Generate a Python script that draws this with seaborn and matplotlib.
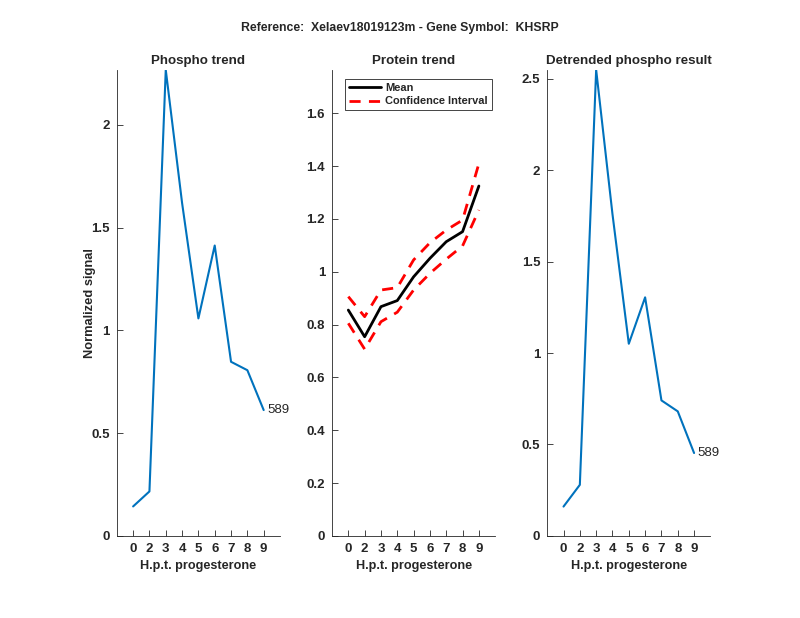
"""Phospho / protein trends for one gene, three panels"""
import numpy as np
import pandas as pd
import seaborn as sns
from matplotlib import pyplot as plt
from matplotlib.lines import Line2D
from matplotlib.ticker import FuncFormatter

hours = ["0", "2", "3", "4", "5", "6", "7", "8", "9"]
phospho = [0.143, 0.216, 2.268, 1.62, 1.058, 1.413, 0.847, 0.806, 0.612]
protein_mean = [0.855, 0.754, 0.868, 0.891, 0.981, 1.051, 1.114, 1.152, 1.325]
protein_upper = [0.906, 0.830, 0.931, 0.940, 1.045, 1.110, 1.158, 1.196, 1.410]
protein_lower = [0.805, 0.707, 0.811, 0.847, 0.931, 0.994, 1.048, 1.098, 1.234]
detrended = [0.160, 0.279, 2.550, 1.76, 1.051, 1.305, 0.741, 0.681, 0.453]
peptide_id = "589"

BLUE = "#0072BD"
AX_COLOR = "#262626"

sns.set_style("ticks")
plt.rcParams["font.family"] = ["Liberation Sans", "DejaVu Sans"]
plt.rcParams["font.weight"] = "bold"

pos = np.arange(1, len(hours) + 1)
df = pd.DataFrame(
    {
        "pos": pos,
        "phospho": phospho,
        "mean": protein_mean,
        "upper": protein_upper,
        "lower": protein_lower,
        "detrended": detrended,
    }
)

fig = plt.figure(figsize=(8, 6.18), dpi=100)
ax1 = fig.add_axes([0.146, 0.133, 0.204, 0.754])
ax2 = fig.add_axes([0.415, 0.133, 0.204, 0.754])
ax3 = fig.add_axes([0.684, 0.133, 0.204, 0.754])


def style(ax, title, ymax, yticks):
    ax.set_xlim(0, 10)
    ax.set_ylim(0, ymax)
    ax.set_xticks(pos)
    ax.set_xticklabels(hours)
    ax.set_yticks(yticks)
    ax.yaxis.set_major_formatter(FuncFormatter(lambda v, _: f"{v:g}"))
    ax.tick_params(direction="in", length=4, width=0.6, color=AX_COLOR,
                   labelcolor=AX_COLOR, labelsize=9.5, pad=5)
    for lab in ax.get_xticklabels() + ax.get_yticklabels():
        lab.set_fontweight("bold")
    ax.spines["top"].set_visible(False)
    ax.spines["right"].set_visible(False)
    for s in ("left", "bottom"):
        ax.spines[s].set_color(AX_COLOR)
        ax.spines[s].set_linewidth(0.6)
    ax.set_title(title, fontsize=9.6, fontweight="bold", pad=4)
    ax.set_xlabel("H.p.t. progesterone", fontsize=9.1, fontweight="bold",
                  color=AX_COLOR, labelpad=4)
    ax.set_ylabel("")


sns.lineplot(data=df, x="pos", y="phospho", color=BLUE, linewidth=1.5, ax=ax1)
style(ax1, "Phospho trend", max(phospho), [0, 0.5, 1, 1.5, 2])
ax1.set_ylabel("Normalized signal", fontsize=9.3, fontweight="bold",
               color=AX_COLOR, labelpad=-3)
ax1.text(pos[-1] + 0.2, phospho[-1], peptide_id, fontsize=9.5,
         fontweight="normal", va="center", ha="left", color=AX_COLOR)

sns.lineplot(data=df, x="pos", y="mean", color="black", linewidth=2, ax=ax2)
sns.lineplot(data=df, x="pos", y="upper", color="red", linewidth=2,
             linestyle=(0, (4, 3)), ax=ax2)
sns.lineplot(data=df, x="pos", y="lower", color="red", linewidth=2,
             linestyle=(0, (4, 3)), ax=ax2)
style(ax2, "Protein trend", 1.765, np.round(np.arange(0, 1.61, 0.2), 1))
handles = [
    Line2D([], [], color="black", linewidth=2),
    Line2D([], [], color="red", linewidth=2, linestyle=(0, (4, 3))),
]
leg = ax2.legend(handles, ["Mean", "Confidence Interval"], loc="upper left",
                 bbox_to_anchor=(0.08, 0.981), borderaxespad=0,
                 fancybox=False, framealpha=1, edgecolor=AX_COLOR,
                 fontsize=7.9, handlelength=2.9, handletextpad=0.4,
                 borderpad=0.35, labelspacing=0.36)
leg.get_frame().set_linewidth(0.6)
for t in leg.get_texts():
    t.set_fontweight("bold")

sns.lineplot(data=df, x="pos", y="detrended", color=BLUE, linewidth=1.5, ax=ax3)
style(ax3, "Detrended phospho result", max(detrended), [0, 0.5, 1, 1.5, 2, 2.5])
ax3.text(pos[-1] + 0.2, detrended[-1], peptide_id, fontsize=9.5,
         fontweight="normal", va="center", ha="left", color=AX_COLOR)

fig.suptitle("Reference:  Xelaev18019123m - Gene Symbol:  KHSRP", y=0.955,
             va="center", fontsize=8.8, fontweight="bold")

plt.savefig("out.png", dpi=100)
